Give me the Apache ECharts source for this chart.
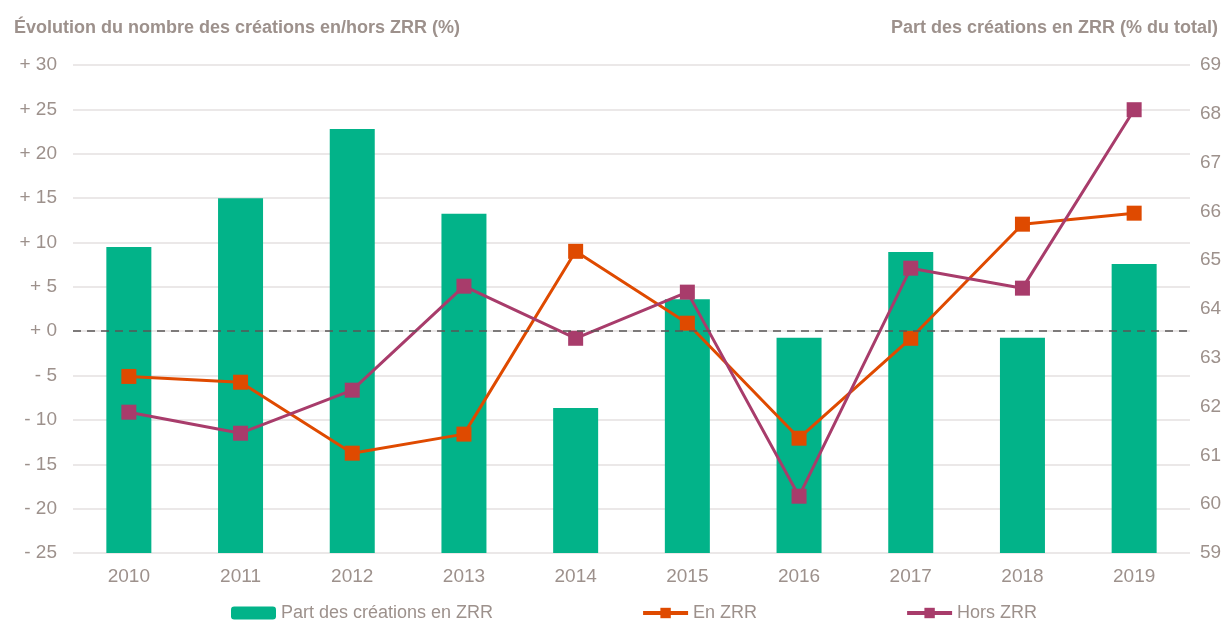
<!DOCTYPE html>
<html>
<head>
<meta charset="utf-8">
<script src="https://cdn.jsdelivr.net/npm/echarts@6/dist/echarts.min.js"></script>
<style>html,body{margin:0;padding:0;background:#fff}#c{width:1230px;height:627px}</style>
</head>
<body>
<div id="c"></div>
<script>
const years = ['2010','2011','2012','2013','2014','2015','2016','2017','2018','2019'];
const partZRR = [65.27, 66.27, 67.69, 65.95, 61.97, 64.2, 63.41, 65.17, 63.41, 64.92];
const enZRR = [-5.1, -5.75, -13.75, -11.6, 9.0, 0.9, -12.06, -0.8, 12.06, 13.3];
const horsZRR = [-9.13, -11.5, -6.65, 5.07, -0.8, 4.4, -18.6, 7.1, 4.85, 24.96];
const leftTitle = 'Évolution du nombre des créations en/hors ZRR (%)';
const rightTitle = 'Part des créations en ZRR (% du total)';

const txt = '#9d918c';
const font = 'Liberation Sans, Arial, sans-serif';
const chart = echarts.init(document.getElementById('c'));
chart.setOption({
  animation: false,
  textStyle: { fontFamily: font },
  title: [
    { text: leftTitle, left: 9, top: 14, textStyle: { fontSize: 18, fontWeight: 'bold', color: txt, fontFamily: font } },
    { text: rightTitle, right: 7, top: 14, textStyle: { fontSize: 18, fontWeight: 'bold', color: txt, fontFamily: font } }
  ],
  grid: { left: 73, right: 40, top: 65, bottom: 74 },
  legend: {
    bottom: 0, left: 226, itemWidth: 45, itemHeight: 13, itemGap: 148,
    lineStyle: { width: 4 },
    textStyle: { fontSize: 18, color: txt, fontFamily: font },
    data: ['Part des créations en ZRR', 'En ZRR', 'Hors ZRR']
  },
  xAxis: {
    type: 'category', data: years,
    axisLine: { show: false }, axisTick: { show: false },
    axisLabel: { color: txt, fontSize: 19, margin: 14 }
  },
  yAxis: [
    {
      type: 'value', min: -25, max: 30, interval: 5,
      axisLine: { show: false }, axisTick: { show: false },
      splitLine: { lineStyle: { color: '#e4e0e0', width: 1.5 } },
      axisLabel: { color: txt, fontSize: 19, margin: 16,
        formatter: v => (v >= 0 ? '+ ' + v : '- ' + Math.abs(v)) }
    },
    {
      type: 'value', min: 59, max: 69, interval: 1, position: 'right',
      axisLine: { show: false }, axisTick: { show: false }, splitLine: { show: false },
      axisLabel: { color: txt, fontSize: 19, margin: 10 }
    }
  ],
  series: [
    {
      name: 'Part des créations en ZRR', type: 'bar', yAxisIndex: 1, data: partZRR,
      barWidth: 45, itemStyle: { color: '#02b389' }, z: 1,
      markLine: {
        silent: true, symbol: 'none', label: { show: false },
        lineStyle: { color: '#5a5555', type: [8, 6], width: 1.5 },
        data: [{ yAxis: 63.5455 }]
      }
    },
    {
      name: 'En ZRR', type: 'line', yAxisIndex: 0, data: enZRR,
      symbol: 'rect', symbolSize: 15, lineStyle: { width: 3, color: '#df4a00' },
      itemStyle: { color: '#df4a00' }, z: 3
    },
    {
      name: 'Hors ZRR', type: 'line', yAxisIndex: 0, data: horsZRR,
      symbol: 'rect', symbolSize: 15, lineStyle: { width: 3, color: '#a83c6b' },
      itemStyle: { color: '#a83c6b' }, z: 4
    }
  ]
});
</script>
</body>
</html>
